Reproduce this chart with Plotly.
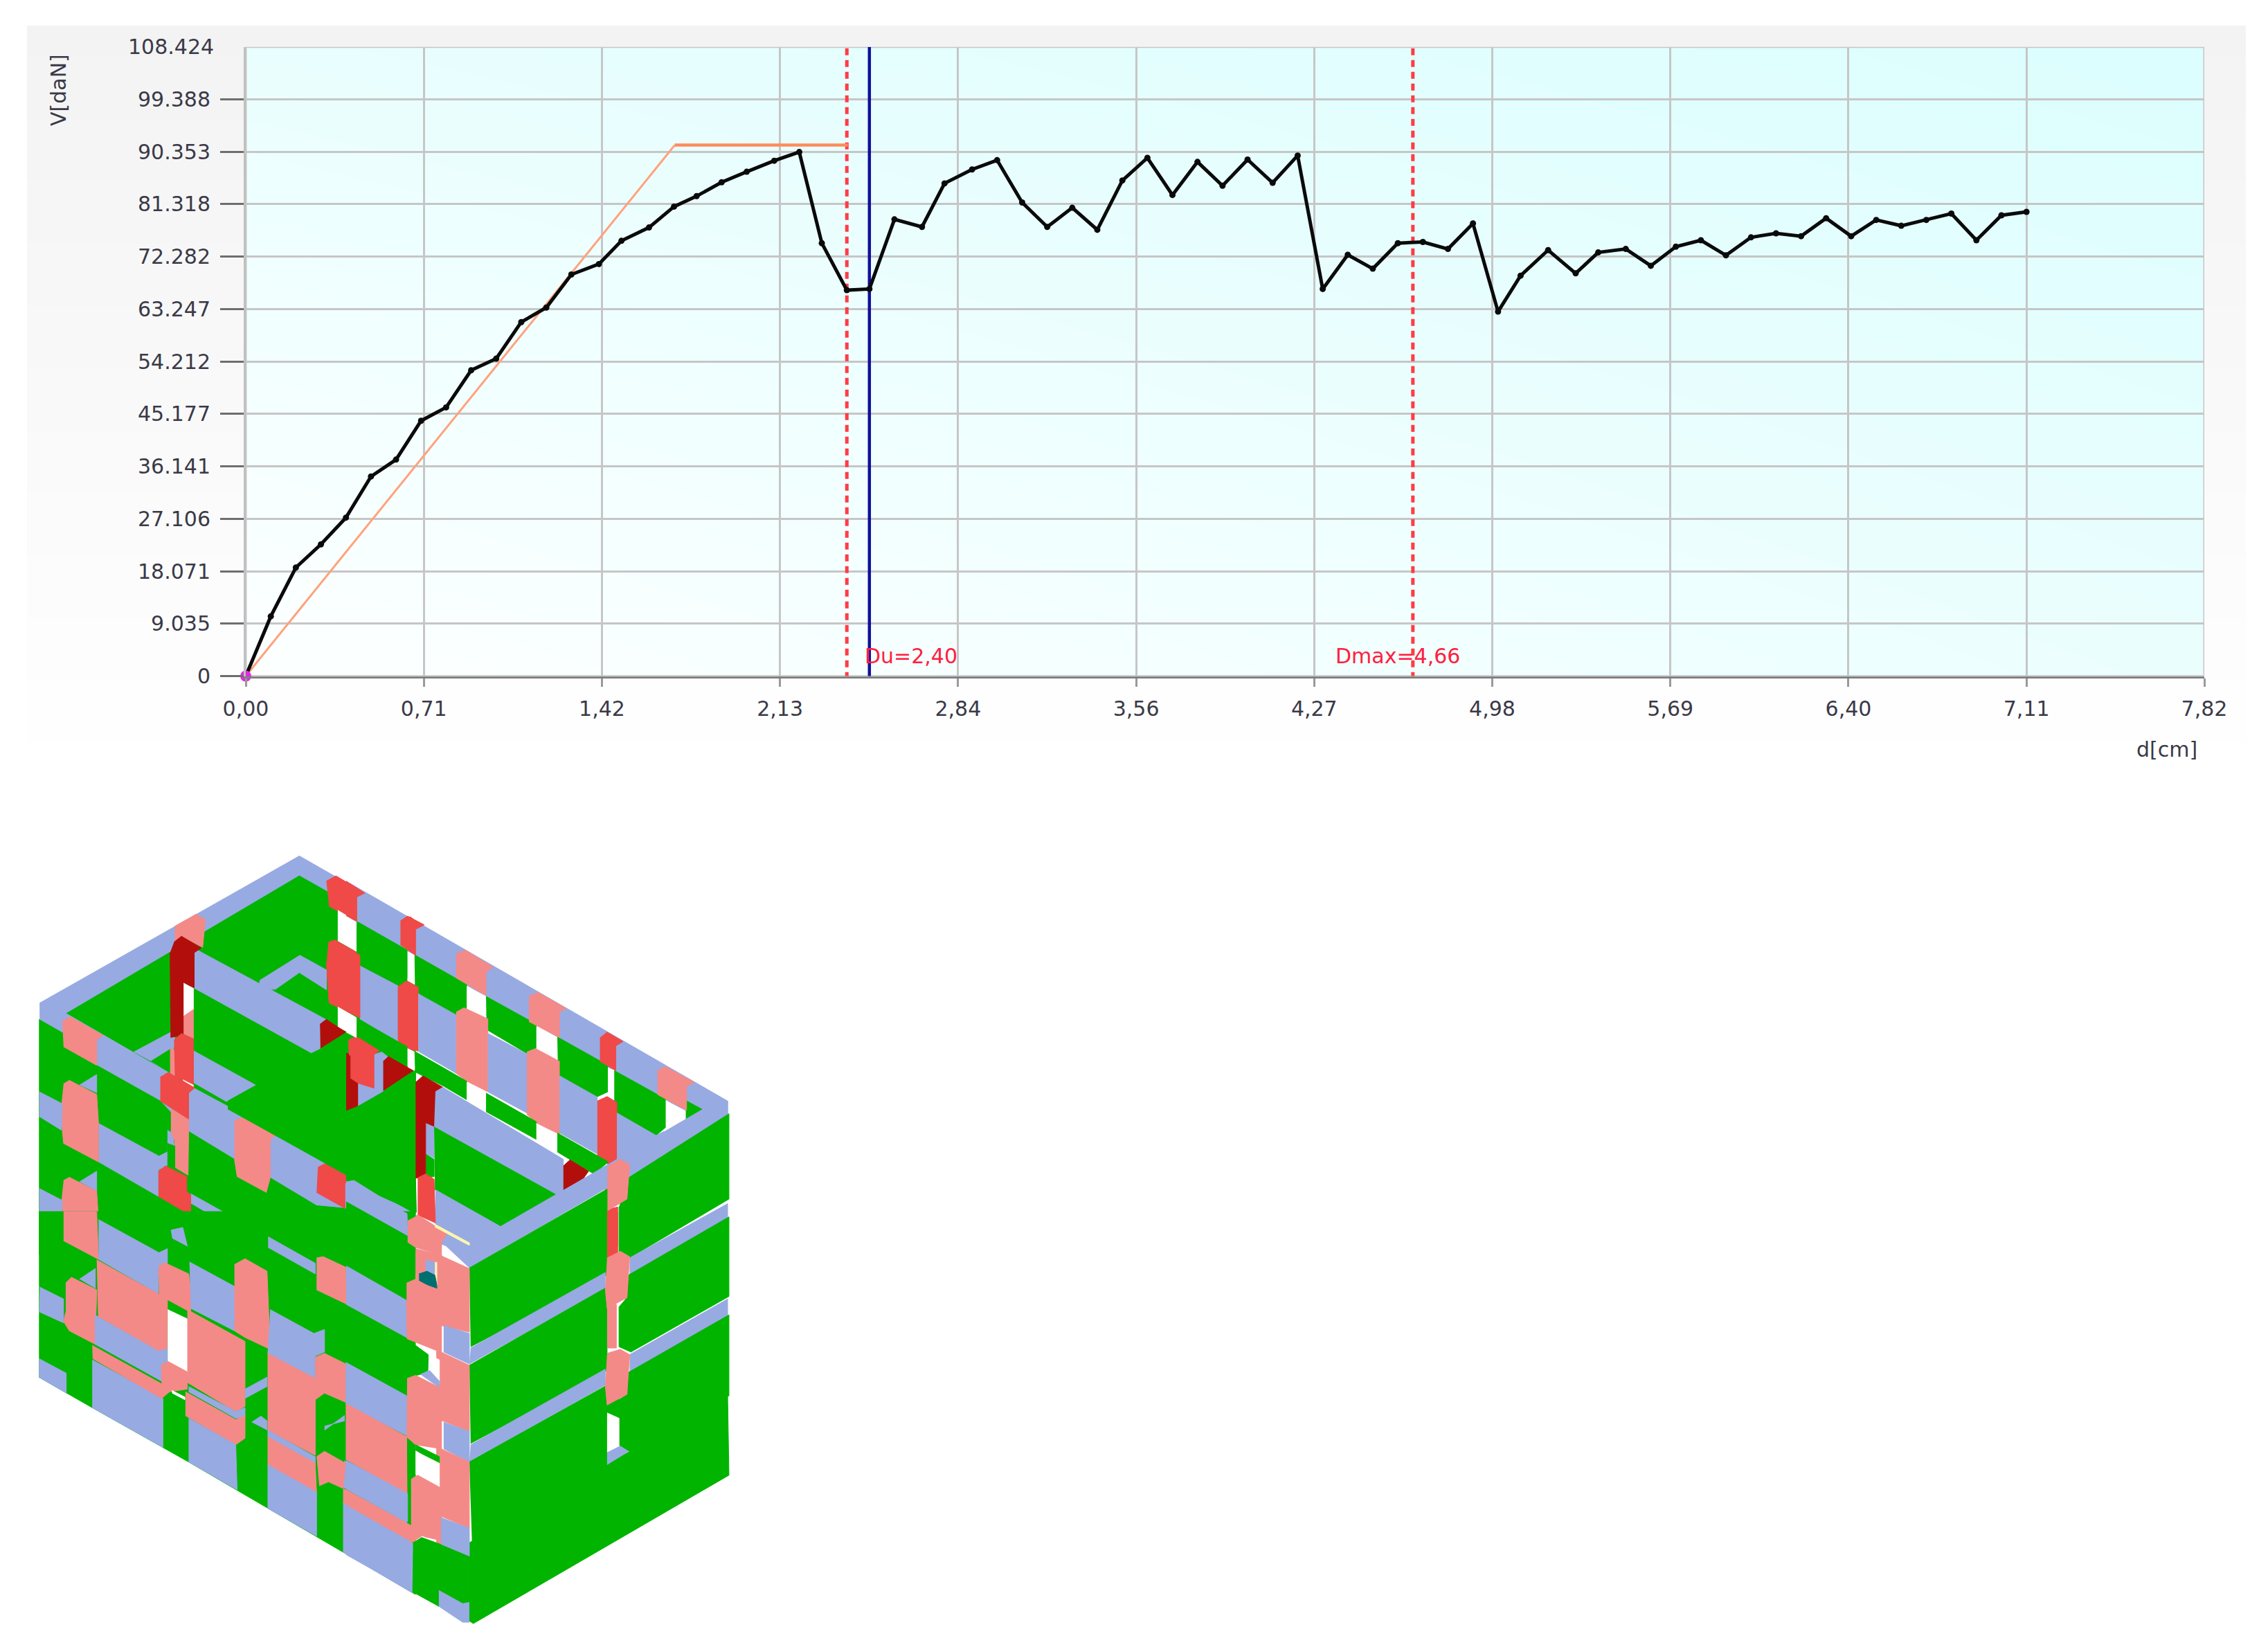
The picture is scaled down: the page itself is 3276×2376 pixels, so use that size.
import plotly.graph_objects as go

W, H = 3276, 2376

# pushover curve
D_CM = [0, 0.10, 0.20, 0.30, 0.40, 0.50, 0.60, 0.70, 0.80, 0.90, 1.00, 1.10, 1.20, 1.30, 1.41, 1.50, 1.61,
        1.71, 1.80, 1.90, 2.00, 2.11, 2.21, 2.30, 2.40, 2.49, 2.59, 2.70, 2.79, 2.90, 3.00, 3.10, 3.20, 3.30,
        3.40, 3.50, 3.60, 3.70, 3.80, 3.90, 4.00, 4.10, 4.20, 4.30, 4.40, 4.50, 4.60, 4.70, 4.80, 4.90, 5.00,
        5.09, 5.20, 5.31, 5.40, 5.51, 5.61, 5.71, 5.81, 5.91, 6.01, 6.11, 6.21, 6.31, 6.41, 6.51, 6.61, 6.71,
        6.81, 6.91, 7.01, 7.11]
V_DAN = [0, 10.3, 18.7, 22.7, 27.3, 34.4, 37.3, 44.0, 46.3, 52.7, 54.7, 61.0, 63.5, 69.2, 71.0, 75.0, 77.3,
         80.9, 82.7, 85.1, 86.9, 88.8, 90.3, 74.6, 66.5, 66.7, 78.7, 77.4, 84.9, 87.3, 88.9, 81.6, 77.4, 80.7,
         76.9, 85.4, 89.3, 82.9, 88.6, 84.5, 89.0, 85.0, 89.7, 66.7, 72.6, 70.2, 74.6, 74.8, 73.6, 78.0, 62.8,
         69.0, 73.4, 69.4, 73.0, 73.6, 70.7, 74.0, 75.1, 72.5, 75.6, 76.3, 75.8, 78.9, 75.8, 78.6, 77.6, 78.6,
         79.7, 75.1, 79.4, 80.0]
BILINEAR_D = [0, 1.713, 2.404]
BILINEAR_V = [0, 91.5, 91.5]
DU = 2.40
DMAX = 4.66
D_BLUE = 2.49
X_TICK_VALS = [0, 0.711, 1.422, 2.133, 2.844, 3.555, 4.266, 4.977, 5.688, 6.399, 7.11, 7.82]
X_TICK_TEXT = ["0,00", "0,71", "1,42", "2,13", "2,84", "3,56", "4,27", "4,98", "5,69", "6,40", "7,11", "7,82"]
Y_TICK_TEXT = ["0", "9.035", "18.071", "27.106", "36.141", "45.177", "54.212", "63.247", "72.282", "81.318",
               "90.353", "99.388"]
Y_TICK_VALS = [float(t) for t in Y_TICK_TEXT]
Y_MAX_TEXT = "108.424"
Y_MAX = 108.424

COLORS = {"G": "#00b400", "B": "#98aae2", "S": "#f48a88", "R": "#ef4a47", "D": "#b20f0c",
          "W": "#ffffff", "T": "#006f70", "Y": "#f9f6b0"}

# building panels, back to front, each: colour then x,y pairs measured in a crop of the picture
TILE_TOP_LEFT = [
    ("B", 150,650, 1130,95, 1568,345, 1568,470, 1345,342, 1245,235, 1130,170, 250,690, 150,712),
    ("G", 250,690, 1130,170, 1245,235, 1345,342, 1568,470, 1568,1000, 860,1050, 500,835),
    ("R", 1232,190, 1268,170, 1378,235, 1350,250, 1350,342, 1242,285),
    ("W", 1275,300, 1345,342, 1345,455, 1275,415),
    ("R", 1240,420, 1265,412, 1345,458, 1358,510, 1358,705, 1242,650, 1232,500),
    ("W", 1275,665, 1345,705, 1345,775, 1275,740),
    ("B", 1358,510, 1500,590, 1500,785, 1358,705),
    ("R", 1510,340, 1550,325, 1568,340, 1568,455, 1510,425),
    ("W", 1538,455, 1568,470, 1568,580, 1538,565),
    ("R", 1500,590, 1530,570, 1568,590, 1568,830, 1530,820, 1500,795),
    ("W", 1538,825, 1568,840, 1568,900, 1538,885),
    ("B", 980,565, 1132,470, 1232,525, 1232,600, 1130,535, 1040,598, 975,600),
    ("B", 735,445, 1230,712, 1208,730, 1208,822, 1175,838, 730,592),
    ("D", 1208,730, 1232,712, 1305,760, 1210,820),
    ("B", 730,830, 965,960, 855,1022, 730,950),
    ("B", 505,835, 645,760, 660,780, 645,920, 570,870),
    ("G", 570,870, 642,825, 642,915),
    ("S", 660,360, 740,315, 775,335, 765,440, 685,398, 660,420),
    ("D", 657,420, 685,398, 760,442, 733,460, 733,592, 693,575, 693,770, 645,780, 642,460),
    ("W", 693,575, 730,595, 730,675, 693,700),
    ("S", 693,700, 730,675, 730,785, 693,765),
    ("S", 642,820, 660,830, 660,925, 642,920),
    ("R", 657,790, 685,765, 730,785, 730,960, 660,925),
    ("W", 690,940, 730,960, 730,968, 695,948),
    ("B", 150,650, 250,690, 640,915, 730,970, 860,1040, 1568,1440, 1568,1570, 1302,1425, 1195,1415, 1020,1310, 885,1240, 712,1135, 605,1020, 365,885, 150,712),
    ("G", 147,712, 240,765, 240,815, 365,885, 605,1020, 712,1135, 885,1240, 1020,1310, 1195,1415, 1302,1425, 1568,1570, 1568,1600, 147,1600),
    ("G", 240,815, 365,885, 365,908, 295,960, 240,945),
    ("B", 300,960, 365,920, 365,990),
    ("S", 235,720, 265,702, 390,772, 365,788, 365,885, 240,815),
    ("S", 240,955, 262,942, 365,995, 372,1105, 372,1250, 240,1180, 232,1095, 232,1030),
    ("B", 148,985, 235,1030, 232,1130, 148,1078),
    ("B", 373,1105, 600,1228, 632,1212, 632,1262, 598,1280, 598,1380, 373,1250),
    ("B", 300,1325, 365,1285, 365,1360),
    ("S", 240,1320, 262,1308, 365,1360, 372,1470, 372,1600, 240,1600, 232,1395),
    ("B", 148,1350, 235,1395, 232,1490, 148,1440),
    ("B", 373,1470, 600,1595, 373,1595),
    ("B", 720,1370, 890,1465, 920,1445, 925,1490, 890,1505, 720,1405),
    ("B", 632,1130, 655,1145, 660,1270, 632,1262),
    ("S", 645,1050, 712,1088, 712,1135, 710,1300, 660,1270, 660,1170, 645,1135),
    ("G", 632,1180, 660,1190, 660,1280, 632,1262),
    ("R", 598,1285, 625,1265, 705,1305, 705,1360, 720,1375, 720,1445, 700,1440, 598,1380),
    ("R", 605,930, 635,912, 735,970, 712,990, 712,1088, 605,1020),
    ("B", 955,1497, 985,1480, 1008,1495, 1008,1530),
    ("S", 885,1095, 920,1080, 1040,1148, 1020,1165, 1020,1310, 1005,1365, 895,1305, 885,1240),
    ("R", 1200,1270, 1230,1255, 1330,1315, 1302,1330, 1302,1425, 1195,1365),
    ("S", 1540,1470, 1568,1455, 1568,1568, 1540,1568),
    ("G", 860,1020, 1310,770, 1310,1055, 1350,1040, 1445,985, 1560,905, 1568,910, 1568,1445, 1130,1200, 860,1050),
    ("B", 1350,955, 1405,985, 1350,1040),
    ("D", 1310,840, 1350,850, 1350,1040, 1310,1055),
    ("R", 1315,790, 1345,775, 1435,825, 1410,845, 1410,985, 1320,935),
    ("B", 1410,845, 1445,835, 1445,985, 1410,985),
    ("D", 1445,870, 1470,855, 1560,905, 1445,980),
]

TILE_TOP_RIGHT = [
    ("B", 0,190, 1440,1020, 1440,1070, 1060,1312, 1060,1260, 1350,1050, 1282,1058, 1012,905, 797,778, 528,625, 258,468, 40,342, 0,320),
    ("G", 40,342, 230,450, 230,555, 195,585, 40,495),
    ("W", 232,458, 258,470, 258,580, 232,565),
    ("G", 258,468, 455,580, 455,670, 415,695, 260,612),
    ("W", 455,588, 528,625, 528,705, 455,670),
    ("G", 528,625, 718,730, 718,822, 685,842, 530,750),
    ("W", 718,742, 797,780, 797,865, 718,822),
    ("G", 797,778, 988,885, 988,985, 945,1005, 800,920),
    ("W", 988,895, 1012,905, 1012,1020, 988,1000),
    ("G", 1012,905, 1205,1012, 1205,1120, 1170,1150, 1012,1060),
    ("W", 1207,1020, 1282,1058, 1282,1090, 1207,1130),
    ("G", 1282,1018, 1345,1052, 1282,1092),
    ("R", 0,190, 70,235, 40,250, 40,342, 0,320),
    ("R", 205,340, 232,322, 295,355, 262,372, 262,470, 205,430),
    ("S", 415,465, 450,450, 555,515, 528,532, 528,622, 415,555),
    ("S", 690,625, 725,610, 830,670, 805,685, 805,780, 690,720),
    ("R", 958,782, 985,760, 1045,795, 1018,812, 1018,905, 958,870),
    ("S", 1175,905, 1205,890, 1315,950, 1285,965, 1285,1055, 1175,995),
    ("B", 52,510, 195,585, 195,795, 52,710),
    ("R", 0,440, 52,470, 52,705, 0,680),
    ("W", 0,690, 38,708, 38,780, 0,760),
    ("R", 195,590, 230,567, 272,590, 272,832, 230,815, 195,790),
    ("B", 272,615, 415,695, 415,915, 272,832),
    ("S", 415,685, 445,668, 535,710, 535,985, 455,945, 415,915),
    ("B", 535,765, 682,842, 682,1065, 535,985),
    ("S", 682,835, 715,822, 805,870, 805,1145, 720,1105, 682,1070),
    ("B", 805,925, 948,1005, 948,1220, 805,1140),
    ("R", 948,1020, 985,1003, 1022,1025, 1022,1260, 990,1260, 948,1225),
    ("B", 1022,1065, 1170,1150, 1200,1135, 1070,1215, 1022,1240),
    ("G", 40,708, 195,795, 230,815, 230,900, 150,855, 100,840, 40,780),
    ("W", 232,822, 258,835, 258,905, 232,893),
    ("G", 258,832, 455,945, 455,1015, 370,965, 260,910),
    ("W", 455,950, 528,990, 528,1058, 455,1018),
    ("G", 528,990, 718,1098, 718,1165, 528,1060),
    ("W", 718,1105, 797,1145, 797,1212, 718,1168),
    ("G", 797,1140, 990,1250, 935,1295, 797,1212),
    ("B", 105,845, 135,835, 160,855, 140,870, 140,985, 105,985),
    ("R", 8,795, 45,780, 125,830, 105,845, 105,985, 15,935),
    ("D", 0,840, 15,850, 15,935, 45,955, 45,1040, 0,1058),
    ("B", 45,955, 140,985, 45,1040),
    ("D", 140,870, 160,852, 252,905, 140,980),
    ("G", 0,1058, 45,1040, 262,915, 262,1310, 265,1440, 0,1320),
    ("B", 300,1105, 332,1118, 332,1235, 300,1218),
    ("G", 300,1220, 332,1240, 332,1305, 300,1310),
    ("D", 262,950, 290,925, 365,968, 337,985, 337,1118, 300,1102, 300,1310, 262,1310),
    ("B", 337,985, 365,968, 820,1240, 820,1360, 795,1375, 332,1118),
    ("D", 820,1265, 845,1242, 915,1285, 890,1320, 820,1360),
    ("G", 332,1118, 795,1375, 585,1495, 335,1355),
    ("B", 337,1355, 585,1495, 465,1562, 465,1600, 360,1560, 337,1490),
    ("R", 270,1310, 300,1295, 332,1315, 337,1480, 270,1450),
    ("B", 0,1325, 30,1320, 230,1445, 232,1530, 0,1400),
    ("G", 0,1400, 232,1530, 232,1568, 0,1568),
    ("B", 465,1562, 585,1495, 1345,1052, 1440,1020, 1440,1068, 465,1650),
    ("G", 1062,1312, 1445,1068, 1445,1390, 1070,1612, 1030,1590, 1030,1420),
    ("R", 985,1430, 1025,1420, 1025,1568, 985,1568),
    ("S", 948,1290, 1035,1240, 1070,1260, 1060,1390, 985,1435, 975,1340),
    ("S", 232,1470, 270,1450, 380,1520, 360,1535, 360,1568, 232,1568),
    ("Y", 335,1485, 465,1555, 465,1565, 335,1495),
]

TILE_BOTTOM_LEFT = [
    ("G", 147,0, 1568,0, 1568,1445, 1295,1285, 1010,1120, 712,945, 348,740, 147,625),
    ("S", 240,0, 365,0, 372,180, 240,110),
    ("B", 372,30, 600,155, 632,140, 632,195, 598,215, 598,310, 372,180),
    ("B", 300,255, 360,215, 360,290),
    ("B", 150,285, 240,330, 240,420, 148,378),
    ("S", 248,270, 270,248, 365,295, 365,320, 358,500, 262,450, 240,415, 248,380),
    ("B", 147,555, 250,610, 250,685, 147,625),
    ("B", 358,390, 600,525, 632,510, 632,565, 610,580, 610,640, 358,500),
    ("S", 365,182, 598,310, 632,330, 632,515, 600,525, 370,395),
    ("B", 348,560, 615,705, 615,890, 348,740),
    ("S", 348,505, 610,650, 640,680, 610,705, 350,555),
    ("W", 633,370, 707,405, 707,605, 633,565),
    ("S", 608,580, 633,565, 707,605, 707,670, 640,680, 610,650),
    ("W", 648,675, 698,700, 698,710, 650,685),
    ("B", 645,70, 690,60, 707,130, 650,100),
    ("S", 598,210, 620,192, 712,235, 720,290, 720,380, 600,315),
    ("B", 715,190, 890,285, 885,450, 720,365),
    ("S", 885,200, 925,178, 1008,225, 1020,520, 925,475, 885,450),
    ("S", 707,370, 925,490, 925,735, 890,755, 707,645),
    ("B", 925,670, 1008,625, 1008,660, 925,705),
    ("B", 950,795, 985,772, 1008,790, 1008,825),
    ("B", 712,660, 890,755, 925,740, 925,775, 890,780, 712,680),
    ("S", 700,680, 890,785, 925,770, 925,855, 890,880, 700,770),
    ("B", 712,780, 890,880, 895,1050, 712,945),
    ("B", 1012,95, 1190,195, 1190,235, 1012,135),
    ("S", 1195,175, 1220,170, 1305,210, 1310,350, 1195,295),
    ("B", 1020,370, 1185,460, 1225,445, 1225,530, 1190,545, 1190,630, 1010,535),
    ("S", 1010,535, 1190,630, 1190,920, 1010,825),
    ("S", 1190,550, 1225,535, 1305,575, 1305,720, 1225,685, 1190,710),
    ("B", 1225,825, 1300,770, 1300,790, 1225,810),
    ("B", 1305,570, 1535,695, 1535,845, 1305,725),
    ("S", 1305,725, 1535,850, 1535,1065, 1305,935),
    ("B", 1010,825, 1190,925, 1190,950, 1010,850),
    ("S", 1010,850, 1190,950, 1195,1060, 1010,955),
    ("B", 1300,940, 1535,1065, 1535,1175, 1295,1040),
    ("S", 1195,925, 1225,905, 1305,950, 1295,1045, 1240,1020, 1205,1035),
    ("S", 1295,1045, 1568,1195, 1568,1250, 1295,1100),
    ("B", 1010,955, 1195,1060, 1195,1225, 1010,1120),
    ("B", 1295,1100, 1558,1250, 1558,1440, 1295,1285),
]

TILE_BOTTOM_RIGHT = [
    ("B", 0,-112, 230,8, 232,93, 0,-37),
    ("G", 0,-37, 232,93, 262,140, 262,240, 228,265, 228,325, 0,200),
    ("S", 262,140, 360,165, 360,310, 262,270),
    ("S", 340,140, 360,165, 360,1255, 340,1255),
    ("B", 0,205, 228,335, 228,475, 0,350),
    ("G", 0,355, 228,480, 310,540, 310,600, 280,615, 228,625, 228,695, 0,565),
    ("W", 312,540, 352,560, 352,650, 310,600),
    ("B", 280,615, 315,600, 352,640, 352,665),
    ("B", 0,570, 228,695, 228,845, 0,725),
    ("S", 0,725, 228,850, 230,1065, 0,935),
    ("B", 0,940, 232,1065, 232,1170, 0,1045),
    ("S", 0,1050, 245,1185, 245,1250, 0,1105),
    ("B", 0,1110, 250,1250, 250,1435, 0,1295),
    ("B", 300,180, 335,190, 335,240, 300,225),
    ("Y", 335,190, 352,195, 352,280, 335,280),
    ("T", 275,235, 305,225, 335,240, 345,290, 275,265),
    ("S", 262,150, 360,165, 358,300, 345,305, 345,190, 300,180, 262,240),
    ("S", 228,270, 262,255, 355,305, 355,530, 230,480, 228,335),
    ("S", 230,630, 262,618, 355,665, 358,895, 262,880, 228,850),
    ("G", 262,880, 352,925, 352,955, 262,900),
    ("W", 262,905, 352,950, 352,1040, 262,990),
    ("S", 245,1010, 270,995, 352,1040, 352,1240, 285,1225, 245,1250),
    ("W", 285,1225, 340,1250, 340,1258, 285,1232),
    ("G", 253,1250, 285,1230, 340,1250, 465,1295, 465,1480, 440,1480, 350,1430, 350,1490, 250,1435),
    ("B", 350,1430, 440,1480, 465,1475, 465,1550, 440,1550, 350,1490),
    ("B", 360,115, 385,95, 465,130, 585,55, 985,-175, 985,-90, 465,213),
    ("G", 465,213, 985,-85, 985,240, 470,510),
    ("B", 470,515, 978,230, 978,290, 465,575),
    ("G", 465,580, 985,285, 985,600, 470,875),
    ("B", 470,880, 978,595, 978,655, 465,945),
    ("G", 465,945, 985,655, 985,955, 475,1250),
    ("G", 465,1250, 985,955, 1065,910, 1440,695, 1445,995, 480,1555, 465,1545),
    ("B", 1070,175, 1440,-30, 1440,30, 1070,240),
    ("G", 1065,240, 1445,20, 1445,320, 1075,530, 1030,510, 1030,360, 1060,325),
    ("B", 1070,540, 1440,330, 1440,395, 1070,605),
    ("G", 1060,610, 1445,390, 1445,695, 1070,905, 1030,885, 1030,710, 1060,690),
    ("G", 985,730, 1030,700, 1030,780, 985,760),
    ("R", 985,0, 1025,0, 1025,155, 985,180),
    ("S", 985,175, 1035,150, 1070,170, 1060,325, 985,365, 978,290),
    ("S", 985,360, 1020,350, 1020,515, 985,515),
    ("S", 985,535, 1035,520, 1070,540, 1060,690, 985,730, 978,655),
    ("W", 985,760, 1030,780, 1030,890, 985,910),
    ("B", 985,910, 1035,885, 1065,905, 985,955),
    ("S", 355,165, 465,215, 465,455, 365,430, 358,430),
    ("B", 368,430, 465,460, 465,575, 368,530),
    ("S", 358,530, 465,580, 465,830, 365,790, 358,790),
    ("B", 368,795, 465,830, 465,945, 368,895),
    ("S", 358,895, 465,945, 465,1195, 358,1150),
    ("B", 358,1155, 465,1195, 465,1300, 358,1255),
    ("S", 232,35, 270,15, 380,85, 360,115, 360,165, 262,135, 232,115),
    ("Y", 335,48, 465,120, 465,127, 335,58),
]

# crop origin in the picture for each tile
TILES = [(TILE_TOP_LEFT, 0, 1200), (TILE_TOP_RIGHT, 500, 1200), (TILE_BOTTOM_LEFT, 0, 1750), (TILE_BOTTOM_RIGHT, 500, 1750)]
CROP_SCALE = 1568 / 600


def fx(px):
    return px / W


def fy(py):
    return 1 - py / H


fig = go.Figure()

# grey panel behind the chart (x/y), cyan plot background (x2/y2), then the chart itself (x3/y3)
fig.add_trace(go.Heatmap(z=[[1, 1], [0, 0]], x=[0, 1], y=[0, 1], zsmooth="best", showscale=False, hoverinfo="skip",
                         colorscale=[[0, "#f3f3f3"], [1, "#ffffff"]], xaxis="x", yaxis="y"))
fig.add_trace(go.Heatmap(z=[[0, 0.55], [0.6, 1]], x=[0, 1], y=[0, 1], zsmooth="best", showscale=False, hoverinfo="skip",
                         colorscale=[[0, "#fdffff"], [1, "#dcfefe"]], xaxis="x2", yaxis="y2"))

fig.add_trace(go.Scatter(x=[DU, DU], y=[-0.5, Y_MAX], mode="lines", cliponaxis=False,
                         line=dict(color="#ff3c46", width=5, dash="10px,7px"), xaxis="x3", yaxis="y3"))
fig.add_trace(go.Scatter(x=[DMAX, DMAX], y=[-0.5, Y_MAX], mode="lines", cliponaxis=False,
                         line=dict(color="#ff3c46", width=5, dash="10px,7px"), xaxis="x3", yaxis="y3"))
fig.add_trace(go.Scatter(x=[D_BLUE, D_BLUE], y=[-0.5, Y_MAX], mode="lines", cliponaxis=False,
                         line=dict(color="#10109a", width=4.5), xaxis="x3", yaxis="y3"))
fig.add_trace(go.Scatter(x=BILINEAR_D[:2], y=BILINEAR_V[:2], mode="lines",
                         line=dict(color="#ffa27c", width=3), xaxis="x3", yaxis="y3"))
fig.add_trace(go.Scatter(x=BILINEAR_D[1:], y=BILINEAR_V[1:], mode="lines",
                         line=dict(color="#ff8c5a", width=4.5), xaxis="x3", yaxis="y3"))
fig.add_trace(go.Scatter(x=D_CM, y=V_DAN, mode="lines+markers", line=dict(color="#0a0a0a", width=5),
                         marker=dict(color="#0a0a0a", size=9), xaxis="x3", yaxis="y3"))
fig.add_trace(go.Scatter(x=[0], y=[0], mode="markers", cliponaxis=False, marker=dict(color="#e22ae2", size=16),
                         xaxis="x3", yaxis="y3"))

# building, drawn in painter's order
for tile, ox, oy in TILES:
    for panel in tile:
        c = COLORS[panel[0]]
        pts = panel[1:]
        fig.add_trace(go.Scatter(x=[ox + v / CROP_SCALE for v in pts[0::2]], y=[oy + v / CROP_SCALE for v in pts[1::2]],
                                 mode="lines", fill="toself", fillcolor=c, line=dict(color=c, width=1),
                                 hoverinfo="skip", xaxis="x4", yaxis="y4"))

TICK_FONT = dict(family="DejaVu Sans", size=30, color="#3a3a48")
annotations = [
    dict(x=fx(84), y=fy(130), xref="paper", yref="paper", xanchor="center", yanchor="middle", text="V[daN]",
         textangle=-90, showarrow=False, font=TICK_FONT),
    dict(x=fx(3130), y=fy(1082), xref="paper", yref="paper", xanchor="center", yanchor="middle", text="d[cm]",
         showarrow=False, font=TICK_FONT),
    dict(x=fx(311), y=Y_MAX, xref="paper", yref="y3", xanchor="right", text=Y_MAX_TEXT, showarrow=False, font=TICK_FONT),
    dict(x=2.657, y=3.5, xref="x3", yref="y3", text="Du=2,40", showarrow=False,
         font=dict(family="DejaVu Sans", size=30, color="#ff2040")),
    dict(x=4.60, y=3.5, xref="x3", yref="y3", text="Dmax=4,66", showarrow=False,
         font=dict(family="DejaVu Sans", size=30, color="#ff2040")),
]

hidden = dict(visible=False, fixedrange=True, automargin=False)
fig.update_layout(
    width=W, height=H, autosize=False, showlegend=False,
    margin=dict(l=0, r=0, t=0, b=0, pad=0), paper_bgcolor="white", plot_bgcolor="rgba(0,0,0,0)",
    annotations=annotations,
    xaxis=dict(hidden, domain=[fx(39), fx(3244)], range=[0, 1]),
    yaxis=dict(hidden, domain=[fy(1117), fy(37)], range=[0, 1]),
    xaxis2=dict(hidden, domain=[fx(355), fx(3184)], range=[0, 1], anchor="y2"),
    yaxis2=dict(hidden, domain=[fy(976.5), fy(67.7)], range=[0, 1], anchor="x2"),
    xaxis3=dict(domain=[fx(355), fx(3184)], range=[0, 7.82], anchor="y3", tickmode="array", automargin=False,
                tickvals=X_TICK_VALS, ticktext=X_TICK_TEXT, ticks="outside", ticklen=12, tickwidth=3,
                tickcolor="#9a9a9a", tickfont=TICK_FONT, showgrid=True, gridcolor="#c6c6c6", gridwidth=3,
                showline=True, linecolor="#808080", linewidth=3, zeroline=False, ticklabelstandoff=6),
    yaxis3=dict(domain=[fy(976.5), fy(67.7)], range=[0, Y_MAX], anchor="x3", tickmode="array", automargin=False,
                tickvals=Y_TICK_VALS, ticktext=Y_TICK_TEXT, ticks="outside", ticklen=34, tickwidth=3,
                tickcolor="#6e6e6e", tickfont=TICK_FONT, showgrid=True, gridcolor="#c6c6c6", gridwidth=3,
                showline=True, linecolor="#c0c0c0", linewidth=3, zeroline=False, ticklabelstandoff=8),
    xaxis4=dict(hidden, domain=[0, fx(1100)], range=[0, 1100], anchor="y4"),
    yaxis4=dict(hidden, domain=[0, 1176 / H], range=[2376, 1200], anchor="x4"),
)
# top and right frame of the plot
fig.add_shape(type="rect", xref="x3", yref="y3", x0=0, x1=7.82, y0=0, y1=Y_MAX, line=dict(color="#c6c6c6", width=3), layer="below")

# the page's default body margin would push the figure 8px off
fig.write_html("out.html", config={"displayModeBar": False}, post_script="document.body.style.margin='0';")
